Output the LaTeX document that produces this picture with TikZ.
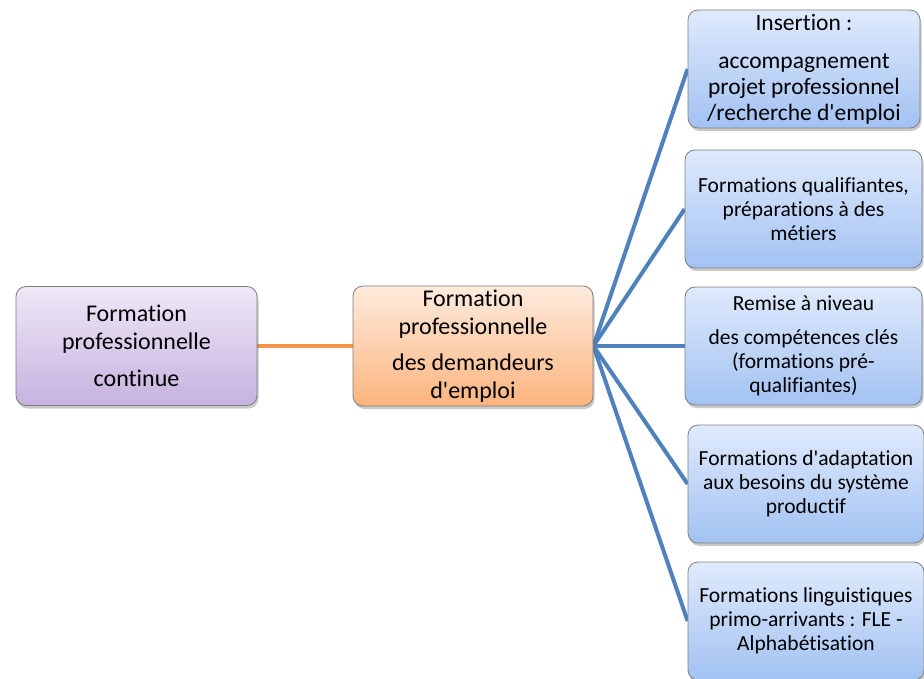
\documentclass[tikz,border=0pt]{standalone}
\usepackage{fontspec}
\setmainfont{Carlito}[Ligatures=NoCommon]
\usetikzlibrary{shadows,backgrounds}
\definecolor{boxborder}{HTML}{7F7F7F}
\definecolor{purpletop}{HTML}{EEE8F7}
\definecolor{purplebot}{HTML}{C6B2DF}
\definecolor{orangetop}{HTML}{FEEBDD}
\definecolor{orangebot}{HTML}{FBB47E}
\definecolor{bluetop}{HTML}{DFEAFC}
\definecolor{bluebot}{HTML}{A2C2F2}
\definecolor{blueline}{HTML}{4F81BD}
\definecolor{orangeline}{HTML}{F79646}
\newcommand{\apos}{\textquotesingle}
\begin{document}
\begin{tikzpicture}[x=1pt,y=-1pt,
  box/.style={draw=boxborder, line width=0.8pt, rounded corners=10pt, align=center, inner sep=0pt,
    drop shadow={shadow xshift=1.5pt, shadow yshift=-3pt, opacity=0.3, fill=black!70}},
  purplebox/.style={box, top color=purpletop, bottom color=purplebot, minimum width=241pt, minimum height=119pt,
    font=\fontsize{24}{28}\selectfont},
  orangebox/.style={box, top color=orangetop, bottom color=orangebot, minimum width=240pt, minimum height=120pt,
    font=\fontsize{24}{27.5}\selectfont},
  bluebox/.style={box, top color=bluetop, bottom color=bluebot, minimum width=236pt, minimum height=118pt,
    font=\fontsize{21.5}{24}\selectfont},
  orangeconn/.style={orangeline, line width=4pt},
  blueconn/.style={blueline, line width=4pt}]
\useasboundingbox (0,0) rectangle (924,679);
\node[purplebox] (A) at (136.5,346) {Formation\\professionnelle\\[9pt]continue};
\node[orangebox] (B) at (473,346) {Formation\\professionnelle\\[9pt]des demandeurs\\d\apos emploi};
\node[bluebox, minimum width=232pt, font=\fontsize{23.5}{26}\selectfont] (R1) at (804,69) {Insertion :\\[12pt]accompagnement\\projet professionnel\\/recherche d\apos emploi};
\node[bluebox, minimum width=237pt] (R2) at (803.5,209) {Formations qualifiantes,\\préparations à des\\métiers};
\node[bluebox, minimum width=237pt] (R3) at (803.5,346) {Remise à niveau\\[10pt]des compétences clés\\(formations pré-\\qualifiantes)};
\node[bluebox] (R4) at (806,484) {Formations d\apos adaptation\\aux besoins du système\\productif};
\node[bluebox] (R5) at (806,621) {Formations linguistiques\\primo-arrivants : FLE -\\Alphabétisation};
\begin{scope}[on background layer]
\draw[orangeconn] (A.east) -- (B.west);
\foreach \r in {R1,R2,R3,R4,R5}
  \draw[blueconn] (B.east) -- (\r.west);
\end{scope}
\end{tikzpicture}
\end{document}
